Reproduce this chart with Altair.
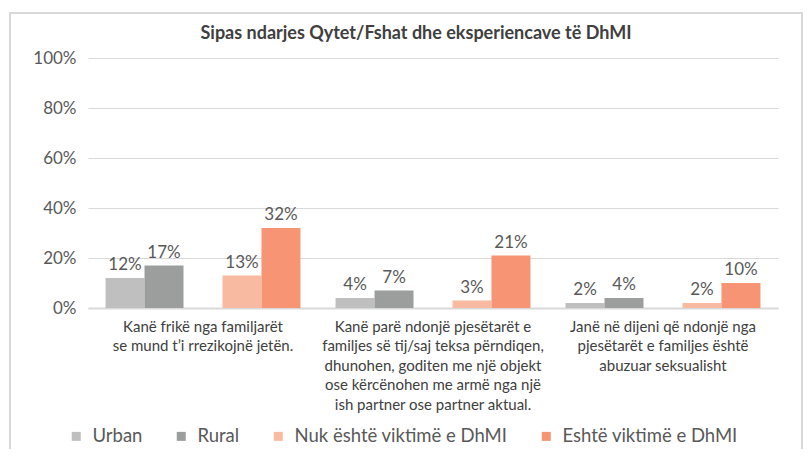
import altair as alt
import pandas as pd

categories = [
    "Kanë frikë nga familjarët|se mund t’i rrezikojnë jetën.",
    "Kanë parë ndonjë pjesëtarët e|familjes së tij/saj teksa përndiqen,|dhunohen, goditen me një objekt|ose kërcënohen me armë nga një|ish partner ose partner aktual.",
    "Janë në dijeni që ndonjë nga|pjesëtarët e familjes është|abuzuar seksualisht",
]
series = ["Urban", "Rural", "Nuk është viktimë e DhMI", "Eshtë viktimë e DhMI"]
colors = ["#BFBFBF", "#9C9E9E", "#F8BBA1", "#F69473"]
urban = [12, 4, 2]
rural = [17, 7, 4]
nuk = [13, 3, 2]
eshte = [32, 21, 10]
title_text = "Sipas ndarjes Qytet/Fshat dhe eksperiencave të DhMI"

rows = []
for i, c in enumerate(categories):
    for s, vals in zip(series, [urban, rural, nuk, eshte]):
        rows.append({"cat": c, "series": s, "value": vals[i] / 100, "label": f"{vals[i]}%"})
df = pd.DataFrame(rows)

offset_domain = ["Urban", "Rural", "gap", "Nuk është viktimë e DhMI", "Eshtë viktimë e DhMI"]
FONT = "Lato"

x = alt.X("cat:N", sort=categories, title=None,
          scale=alt.Scale(paddingInner=0, paddingOuter=0),
          axis=alt.Axis(labelExpr="split(datum.label, '|')", labelAngle=0,
                        labelFontSize=15, labelColor="#404040", labelPadding=11,
                        labelLineHeight=19.5, ticks=False, domainColor="#D9D9D9",
                        domainWidth=2, labelFont=FONT, labelBaseline="top", labelLimit=0))
xo = alt.XOffset("series:N", scale=alt.Scale(domain=offset_domain, paddingInner=0, paddingOuter=0.45))
y = alt.Y("value:Q", title=None,
          scale=alt.Scale(domain=[0, 1]),
          axis=alt.Axis(format="%", values=[0, 0.2, 0.4, 0.6, 0.8, 1.0], ticks=False,
                        domain=False, gridColor="#D9D9D9", labelFontSize=17,
                        labelColor="#595959", labelPadding=12, labelFont=FONT))

bars = alt.Chart(df).mark_bar().encode(
    x=x, xOffset=xo, y=y,
    color=alt.Color("series:N", scale=alt.Scale(domain=series, range=colors),
                    legend=alt.Legend(title=None, orient="none", legendX=-21, legendY=369,
                                      direction="horizontal", symbolType="square",
                                      symbolSize=81, labelFontSize=18.5, labelColor="#595959",
                                      columnPadding=29, labelOffset=7, labelFont=FONT,
                                      symbolStrokeWidth=0, labelLimit=0)),
)
labels = alt.Chart(df).mark_text(dy=-13, fontSize=17, color="#595959", font=FONT).encode(
    x=alt.X("cat:N", sort=categories), xOffset=xo, y="value:Q", text="label:N"
)
frame = alt.Chart(alt.Data(values=[{}])).mark_rect(fill=None, stroke="#D9D9D9", strokeWidth=2).encode(
    x=alt.value(-78), x2=alt.value(714), y=alt.value(-45), y2=alt.value(398)
)
title = alt.Chart(alt.Data(values=[{"t": title_text}])).mark_text(
    fontSize=18, fontWeight="bold", color="#404040", font=FONT, align="center", baseline="middle"
).encode(x=alt.value(328), y=alt.value(-24), text="t:N")

chart = alt.layer(frame, bars, labels, title).properties(
    width=690, height=250,
    autosize=alt.AutoSizeParams(type="none"),
    padding={"left": 80, "top": 50, "right": 25, "bottom": 141},
).configure_view(stroke=None)

chart.save("out.html", embed_options={"renderer": "svg", "actions": False})
